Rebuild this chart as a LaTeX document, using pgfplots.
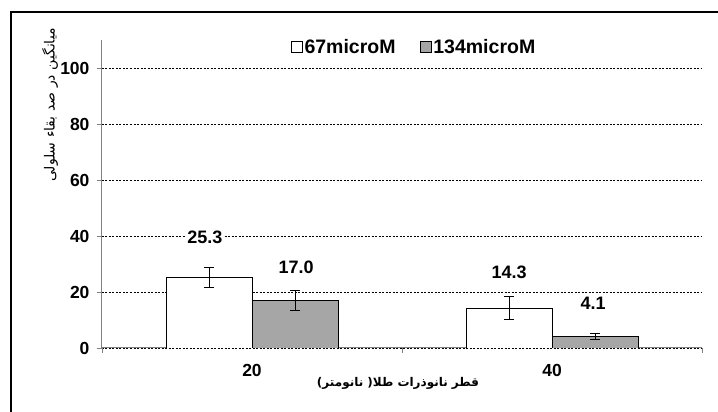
\documentclass[border=0pt]{standalone}
\usepackage{fontspec}
\setmainfont{Liberation Sans}
\newfontfamily\arabicfont[Script=Arabic]{DejaVu Sans}
\usepackage{pgfplots}
\pgfplotsset{compat=1.18}
\TeXXeTstate=1
\definecolor{barg}{RGB}{166,166,166}
\definecolor{axg}{RGB}{128,128,128}
\begin{document}
\begin{tikzpicture}
\useasboundingbox (0,0) rectangle (718pt,412pt);
\draw[line width=1.5pt] (11pt,0) -- (11pt,400pt) -- (718pt,400pt);
\begin{axis}[
  at={(102pt,64pt)}, anchor=south west,
  scale only axis, width=600pt, height=308pt,
  xmin=-0.5, xmax=1.5, ymin=0, ymax=110,
  axis x line*=bottom, axis y line*=left,
  axis line style={-, draw=axg, line width=1pt},
  ybar=0pt, bar width=86pt,
  ytick={0,20,40,60,80,100},
  ymajorgrids,
  grid style={black, line width=0.5pt, dash pattern=on 2pt off 1.5pt},
  tick align=outside,
  major tick length=5pt,
  tick style={draw=axg, line width=0.8pt},
  xtick={-0.5,0.5,1.5}, xticklabels={},
  extra x ticks={0,1}, extra x tick labels={20,40},
  extra x tick style={major tick length=0pt, xticklabel style={yshift=-13pt}},
  yticklabel style={xshift=-4pt},
  /pgf/number format/assume math mode=true,
  ticklabel style={font=\bfseries\fontsize{17.5}{19}\selectfont},
  legend columns=2,
  legend style={draw=none, fill=none, at={(0.52,0.977)}, anchor=center,
    font=\bfseries\fontsize{19.5}{21}\selectfont,
    /tikz/every even column/.append style={column sep=22pt}},
  legend image code/.code={\draw[#1, line width=0.8pt] (-2pt,-5.5pt) rectangle (9pt,5.5pt);},
  ylabel={\arabicfont\fontsize{14}{16}\selectfont\beginR میانگین در صد بقاء سلولی\endR},
  ylabel style={at={(rel axis cs:0,0.789)}, yshift=52pt, anchor=center},
  xlabel={\arabicfont\bfseries\fontsize{12}{14}\selectfont\beginR قطر نانوذرات طلا( نانومتر)\endR},
  xlabel style={at={(rel axis cs:0.5,0)}, yshift=-35pt, xshift=-4pt, anchor=center},
]
\addplot[fill=white, draw=black, line width=0.8pt,
  error bars/.cd, y dir=both, y explicit,
  error bar style={black, line width=0.8pt},
  error mark options={rotate=90, mark size=5pt, black, line width=0.8pt}]
  coordinates {(0,25.3) +- (0,3.5) (1,14.3) +- (0,4.1)};
\addplot[fill=barg, draw=black, line width=0.8pt,
  error bars/.cd, y dir=both, y explicit,
  error bar style={black, line width=0.8pt},
  error mark options={rotate=90, mark size=5pt, black, line width=0.8pt}]
  coordinates {(0,17.0) +- (0,3.6) (1,4.1) +- (0,1.2)};
\legend{67microM,134microM}
\begin{scope}[every node/.style={fill=white, inner sep=2pt, font=\bfseries\fontsize{18}{20}\selectfont}]
\node at (axis cs:-0.157,39.6) {25.3};
\node at (axis cs:0.147,28.9) {17.0};
\node at (axis cs:0.857,27.1) {14.3};
\node at (axis cs:1.137,16.1) {4.1};
\end{scope}
\end{axis}
\end{tikzpicture}
\end{document}
